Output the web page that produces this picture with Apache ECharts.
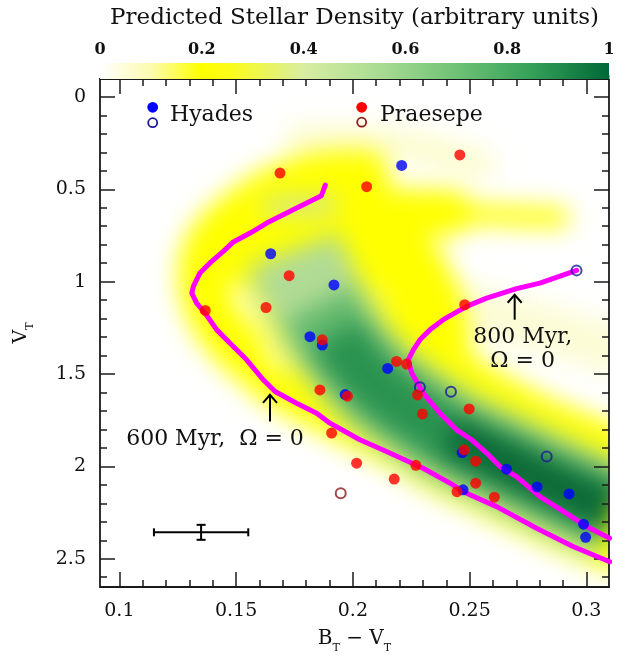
<!DOCTYPE html>
<html>
<head>
<meta charset="utf-8">
<script src="https://cdn.jsdelivr.net/npm/echarts@6/dist/echarts.min.js"></script>
<style>
  html, body { margin: 0; padding: 0; background: #fff; }
  #wrap { position: relative; width: 631px; height: 656px; overflow: hidden; background: #fff; }
  #densityClip { position: absolute; left: 100px; top: 79px; width: 509px; height: 508px; overflow: hidden; }
  #density { position: absolute; left: -100px; top: -79px; width: 631px; height: 656px; filter: blur(12px); }
  #main { position: absolute; left: 0; top: 0; width: 631px; height: 656px; }
</style>
</head>
<body>
<div id="wrap">
  <div id="densityClip"><div id="density"></div></div>
  <div id="main"></div>
</div>
<script>
// ---- axes ----
const xRange = [0.0917, 0.3097];
const yRange = [-0.097, 2.653];
const xMajor = [0.1, 0.15, 0.2, 0.25, 0.3];
const xMinor = [0.10, 0.11, 0.12, 0.13, 0.14, 0.15, 0.16, 0.17, 0.18, 0.19, 0.20,
                0.21, 0.22, 0.23, 0.24, 0.25, 0.26, 0.27, 0.28, 0.29, 0.30];
const yMajor = [0, 0.5, 1, 1.5, 2, 2.5];
const yMinor = [0, 0.1, 0.2, 0.3, 0.4, 0.5, 0.6, 0.7, 0.8, 0.9, 1.0, 1.1, 1.2, 1.3,
                1.4, 1.5, 1.6, 1.7, 1.8, 1.9, 2.0, 2.1, 2.2, 2.3, 2.4, 2.5, 2.6];
const colorbarRange = [0, 1];

// ---- stars: [B_T - V_T, V_T] ----
const hyadesFilled = [
  [0.2209, 0.371], [0.1648, 0.849], [0.1919, 1.018], [0.1816, 1.298], [0.1869, 1.343],
  [0.2149, 1.470], [0.1967, 1.611], [0.2468, 1.925], [0.2658, 2.015], [0.2472, 2.127],
  [0.2789, 2.111], [0.2926, 2.149], [0.2988, 2.313], [0.2997, 2.384]
];
const hyadesOpen = [
  [0.2958, 0.939], [0.2287, 1.571], [0.2420, 1.596], [0.2830, 1.946]
];
const praesepeFilled = [
  [0.1688, 0.412], [0.2059, 0.486], [0.2458, 0.314], [0.1727, 0.968], [0.1628, 1.140],
  [0.1368, 1.156], [0.2479, 1.125], [0.1869, 1.315], [0.2187, 1.432], [0.2230, 1.446],
  [0.1859, 1.586], [0.1977, 1.620], [0.2277, 1.613], [0.2498, 1.689], [0.2298, 1.716],
  [0.1909, 1.820], [0.2476, 1.911], [0.2016, 1.983], [0.2526, 1.972], [0.2270, 1.994],
  [0.2177, 2.069], [0.2526, 2.091], [0.2446, 2.137], [0.2606, 2.167]
];
const praesepeOpen = [
  [0.1948, 2.145]
];

// ---- isochrones ----
const iso600 = [
  [0.1882, 0.477], [0.1865, 0.535], [0.1759, 0.601], [0.1631, 0.683], [0.1560, 0.737],
  [0.1488, 0.785], [0.1445, 0.836], [0.1388, 0.899], [0.1345, 0.953], [0.1317, 1.026],
  [0.1310, 1.062], [0.1331, 1.116], [0.1367, 1.170], [0.1417, 1.261], [0.1474, 1.333],
  [0.1545, 1.423], [0.1616, 1.531], [0.1667, 1.595], [0.1759, 1.658], [0.1845, 1.712],
  [0.1902, 1.766], [0.2030, 1.856], [0.2130, 1.911], [0.2301, 2.010], [0.2416, 2.091],
  [0.2487, 2.145], [0.2616, 2.218], [0.2787, 2.335], [0.2943, 2.434], [0.3100, 2.516]
];
const iso800 = [
  [0.2958, 0.939], [0.2801, 1.008], [0.2701, 1.038], [0.2573, 1.089], [0.2487, 1.134],
  [0.2387, 1.206], [0.2330, 1.261], [0.2287, 1.315], [0.2259, 1.369], [0.2237, 1.423],
  [0.2252, 1.495], [0.2301, 1.603], [0.2373, 1.712], [0.2444, 1.802], [0.2509, 1.856],
  [0.2573, 1.928], [0.2630, 2.001], [0.2701, 2.055], [0.2801, 2.164], [0.2915, 2.254],
  [0.3001, 2.326], [0.3100, 2.389]
];

// ---- annotations: [x, arrow tip V, arrow tail V] ----
const arrowMarks = [[0.1645, 1.613, 1.757], [0.2693, 1.071, 1.206]];
const arrowTexts = ['600 Myr,  \u03A9 = 0', '800 Myr,\n\u03A9 = 0'];
// typical error: [x, V, half-width x, half-height V]
const errorBar = [0.135, 2.357, 0.0202, 0.0405];

// ---- predicted density ridges (drawn soft, beneath everything) ----
const densityPaleTop   = [[0.1773, 0.231], [0.2201, 0.258], [0.2544, 0.367]];
const densityPaleRight = [[0.2415, 1.125], [0.2757, 1.233], [0.3121, 1.369]];
const densityArc = [[0.1517, 1.369], [0.1401, 1.179], [0.1358, 0.963], [0.1397, 0.784],
                    [0.1517, 0.638], [0.1666, 0.513], [0.1859, 0.437], [0.2051, 0.421]];
const densityEdge = [[0.1440, 1.288], [0.1538, 1.434], [0.1666, 1.575], [0.1837, 1.694],
                     [0.2009, 1.802], [0.2201, 1.921]];
const densityFill = [[0.1581, 0.854], [0.1773, 0.746], [0.1987, 0.746], [0.2201, 0.881],
                     [0.2308, 1.098], [0.2351, 1.315]];
const densityWedge = [[0.1902, 0.611], [0.2415, 0.627]];
const densityWedgeTip = [[0.2372, 0.627], [0.2886, 0.654]];
const densityUpper = [[0.2265, 1.315], [0.2501, 1.531], [0.2800, 1.737], [0.3121, 1.900]];
const bandCentre = [[0.3121, 2.246], [0.2886, 2.116], [0.2629, 1.964], [0.2415, 1.835],
                    [0.2244, 1.694], [0.2116, 1.575], [0.2009, 1.434], [0.1923, 1.288],
                    [0.1850, 1.125], [0.1786, 0.963], [0.1743, 0.827]];
const densityBand = bandCentre.slice(0, 10);
const ridgeLight = bandCentre;
const ridgeTop = [[0.1645, 0.594], [0.1902, 0.583]];
const ridgeMid = bandCentre.slice(0, 9);
const ridgeDark = bandCentre.slice(0, 8);
const ridgeDeep = bandCentre.slice(0, 4);

const FONT = '"DejaVu Serif", serif';
const INK = '#1a1a1a';
const GRID = { left: 100, top: 79, width: 509, height: 508, outerBoundsMode: 'none' };

// ---------- soft density layer ----------
function ridge(data, width, color, cap) {
  return {
    type: 'line', data: data, showSymbol: false, smooth: 0.35, clip: false, silent: true,
    lineStyle: { width: width, color: color, cap: cap || 'round', join: 'round' }
  };
}
const density = echarts.init(document.getElementById('density'), null, { renderer: 'canvas' });
density.setOption({
  animation: false,
  backgroundColor: 'transparent',
  grid: GRID,
  xAxis: { type: 'value', min: xRange[0], max: xRange[1], show: false },
  yAxis: { type: 'value', min: yRange[0], max: yRange[1], inverse: true, show: false },
  series: [
    ridge(densityPaleTop, 30, '#fcfcce'),
    ridge(densityPaleRight, 50, '#fcfcd6'),
    ridge(densityArc, 50, '#ffff00'),
    ridge(densityEdge, 36, '#ffff00'),
    ridge(densityFill, 72, '#ffff00'),
    ridge(densityWedge, 46, '#ffff00'),
    ridge(densityWedgeTip, 20, '#ffff00'),
    ridge(densityUpper, 44, '#ffff00'),
    ridge(densityBand, 115, '#ffff00'),
    ridge(ridgeLight, 98, '#b1db95', 'butt'),
    ridge(ridgeTop, 16, '#cbe5a3'),
    ridge(ridgeMid, 76, '#62b96d', 'butt'),
    ridge(ridgeDark, 56, '#2a9350', 'butt'),
    ridge(ridgeDeep, 44, '#0c6b37', 'butt')
  ]
});

// ---------- main chart ----------
function xAxisDef(pos, values, len, withLabel, withLine) {
  return {
    type: 'value', gridIndex: 0, position: pos, min: xRange[0], max: xRange[1],
    splitLine: { show: false },
    axisLine: { show: withLine, onZero: false, lineStyle: { color: INK, width: 1.8 } },
    axisTick: { show: true, inside: true, length: len, customValues: values, lineStyle: { color: INK, width: 1.5 } },
    axisLabel: withLabel
      ? { show: true, customValues: values, margin: 15, color: '#111', fontFamily: FONT, fontSize: 19 }
      : { show: false }
  };
}
function yAxisDef(pos, values, len, withLabel, withLine) {
  return {
    type: 'value', gridIndex: 0, position: pos, min: yRange[0], max: yRange[1], inverse: true,
    splitLine: { show: false },
    axisLine: { show: withLine, onZero: false, lineStyle: { color: INK, width: 1.8 } },
    axisTick: { show: true, inside: true, length: len, customValues: values, lineStyle: { color: INK, width: 1.5 } },
    axisLabel: withLabel
      ? { show: true, customValues: values, margin: 14, color: '#111', fontFamily: FONT, fontSize: 19 }
      : { show: false }
  };
}

const xMain = xAxisDef('bottom', xMajor, 15, true, true);
xMain.name = '{m|B}{s|T}{m| \u2212 V}{s|T}';
xMain.nameLocation = 'middle';
xMain.nameGap = 37;
xMain.nameTextStyle = {
  color: '#111', fontFamily: FONT,
  rich: {
    m: { fontSize: 20, fontFamily: FONT, color: '#111', lineHeight: 30, verticalAlign: 'middle' },
    s: { fontSize: 11, fontFamily: FONT, color: '#111', lineHeight: 12, verticalAlign: 'bottom' }
  }
};
const yMain = yAxisDef('left', yMajor, 15, true, true);
yMain.name = '{m|V}{s|T}';
yMain.nameLocation = 'middle';
yMain.nameRotate = 90;
yMain.nameGap = 64;
yMain.nameTextStyle = {
  color: '#111', fontFamily: FONT,
  rich: {
    m: { fontSize: 19, fontFamily: FONT, color: '#111', lineHeight: 30, verticalAlign: 'middle' },
    s: { fontSize: 11, fontFamily: FONT, color: '#111', lineHeight: 12, verticalAlign: 'bottom' }
  }
};

const circle = (fill, stroke, size) => ({
  type: 'scatter', xAxisIndex: 0, yAxisIndex: 0, symbol: 'circle', symbolSize: size,
  itemStyle: stroke ? { color: 'rgba(0,0,0,0)', borderColor: stroke, borderWidth: 2 } : { color: fill },
  z: 5
});

const chart = echarts.init(document.getElementById('main'), null, { renderer: 'canvas' });
chart.setOption({
  animation: false,
  backgroundColor: 'transparent',
  grid: [
    GRID,
    { left: 100, top: 63, width: 509, height: 16, outerBoundsMode: 'none' }
  ],
  xAxis: [
    xMain,
    xAxisDef('bottom', xMinor, 7, false, false),
    xAxisDef('top', xMajor, 15, false, true),
    xAxisDef('top', xMinor, 7, false, false),
    {
      type: 'value', gridIndex: 1, position: 'top', min: colorbarRange[0], max: colorbarRange[1], interval: 0.2,
      splitLine: { show: false }, axisLine: { show: false },
      axisTick: { show: true, inside: false, length: 4, lineStyle: { color: '#aaa', width: 1 } },
      axisLabel: { margin: 5, color: '#111', fontFamily: FONT, fontSize: 16, fontWeight: 'bold' }
    }
  ],
  yAxis: [
    yMain,
    yAxisDef('left', yMinor, 7, false, false),
    yAxisDef('right', yMajor, 15, false, true),
    yAxisDef('right', yMinor, 7, false, false),
    { type: 'value', gridIndex: 1, min: 0, max: 1, show: false }
  ],
  graphic: [
    { type: 'text', x: 354.5, y: 18, style: { text: 'Predicted Stellar Density (arbitrary units)', font: '23px "DejaVu Serif"', fill: '#111', align: 'center', verticalAlign: 'middle' } },
    { type: 'circle', shape: { cx: 152.7, cy: 107.3, r: 5.4 }, style: { fill: '#0000ff' }, z: 10 },
    { type: 'circle', shape: { cx: 152.7, cy: 122.7, r: 4.5 }, style: { fill: 'none', stroke: '#1a1a99', lineWidth: 1.8 }, z: 10 },
    { type: 'text', x: 170, y: 115, style: { text: 'Hyades', font: '22px "DejaVu Serif"', fill: '#111', verticalAlign: 'middle' }, z: 10 },
    { type: 'circle', shape: { cx: 361.7, cy: 107.3, r: 5.4 }, style: { fill: '#ff0000' }, z: 10 },
    { type: 'circle', shape: { cx: 361.7, cy: 122.2, r: 4.5 }, style: { fill: 'none', stroke: '#8b1a1a', lineWidth: 1.8 }, z: 10 },
    { type: 'text', x: 380, y: 115, style: { text: 'Praesepe', font: '22px "DejaVu Serif"', fill: '#111', verticalAlign: 'middle' }, z: 10 }
  ],
  series: [
    {
      // colour bar
      type: 'custom', xAxisIndex: 4, yAxisIndex: 4, data: [colorbarRange], silent: true,
      renderItem: function (params, api) {
        const a = api.coord([api.value(0), 0]);
        const b = api.coord([api.value(1), 1]);
        return {
          type: 'rect',
          shape: { x: a[0], y: b[1], width: b[0] - a[0], height: a[1] - b[1] },
          style: {
            fill: new echarts.graphic.LinearGradient(0, 0, 1, 0, [
              { offset: 0.0, color: '#ffffff' },
              { offset: 0.1, color: '#fbfbb0' },
              { offset: 0.2, color: '#ffff00' },
              { offset: 0.26, color: '#fbfc1c' },
              { offset: 0.4, color: '#d8eda2' },
              { offset: 0.55, color: '#a9db93' },
              { offset: 0.7, color: '#6fc276' },
              { offset: 0.85, color: '#34a058' },
              { offset: 1.0, color: '#006837' }
            ])
          }
        };
      }
    },
    {
      type: 'line', xAxisIndex: 0, yAxisIndex: 0, data: iso600, showSymbol: false, silent: true,
      lineStyle: { color: '#ff00ff', width: 5, cap: 'round', join: 'round' }, z: 3
    },
    {
      type: 'line', xAxisIndex: 0, yAxisIndex: 0, data: iso800, showSymbol: false, silent: true,
      lineStyle: { color: '#ff00ff', width: 5, cap: 'round', join: 'round' }, z: 3
    },
    Object.assign(circle('#0000ff', null, 11), { data: hyadesFilled }),
    Object.assign(circle(null, '#1a1a99', 10), { data: hyadesOpen }),
    Object.assign(circle('#ff0000', null, 11), { data: praesepeFilled }),
    Object.assign(circle(null, '#8b1a1a', 10), { data: praesepeOpen }),
    {
      // arrows with their isochrone labels
      type: 'custom', xAxisIndex: 0, yAxisIndex: 0, data: arrowMarks, silent: true, z: 6,
      renderItem: function (params, api) {
        const i = params.dataIndex;
        const tip = api.coord([api.value(0), api.value(1)]);
        const tail = api.coord([api.value(0), api.value(2)]);
        const textOffset = i === 0 ? [-55, 18] : [8, 30];
        return {
          type: 'group',
          children: [
            { type: 'line', shape: { x1: tail[0], y1: tail[1], x2: tip[0], y2: tip[1] }, style: { stroke: '#000', lineWidth: 2 } },
            { type: 'polyline', shape: { points: [[tip[0] - 7, tip[1] + 8], [tip[0], tip[1]], [tip[0] + 7, tip[1] + 8]] }, style: { stroke: '#000', lineWidth: 2, fill: null } },
            {
              type: 'text', x: tail[0] + textOffset[0], y: tail[1] + textOffset[1],
              style: { text: arrowTexts[i], font: '22px "DejaVu Serif"', fill: '#111', align: 'center', verticalAlign: 'middle', lineHeight: 24 }
            }
          ]
        };
      }
    },
    {
      // typical uncertainty
      type: 'custom', xAxisIndex: 0, yAxisIndex: 0, data: [errorBar], silent: true, z: 6,
      renderItem: function (params, api) {
        const x = api.value(0), y = api.value(1), dx = api.value(2), dy = api.value(3);
        const l = api.coord([x - dx, y]), r = api.coord([x + dx, y]);
        const t = api.coord([x, y - dy]), b = api.coord([x, y + dy]);
        const st = { stroke: '#000', lineWidth: 2 };
        return {
          type: 'group',
          children: [
            { type: 'line', shape: { x1: l[0], y1: l[1], x2: r[0], y2: r[1] }, style: st },
            { type: 'line', shape: { x1: l[0], y1: l[1] - 4, x2: l[0], y2: l[1] + 4 }, style: st },
            { type: 'line', shape: { x1: r[0], y1: r[1] - 4, x2: r[0], y2: r[1] + 4 }, style: st },
            { type: 'line', shape: { x1: t[0], y1: t[1], x2: b[0], y2: b[1] }, style: st },
            { type: 'line', shape: { x1: t[0] - 4.5, y1: t[1], x2: t[0] + 4.5, y2: t[1] }, style: st },
            { type: 'line', shape: { x1: b[0] - 4.5, y1: b[1], x2: b[0] + 4.5, y2: b[1] }, style: st }
          ]
        };
      }
    }
  ]
});
</script>
</body>
</html>
